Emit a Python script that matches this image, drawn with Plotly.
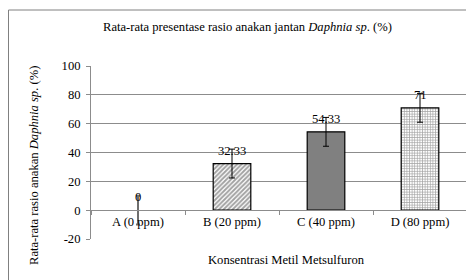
import plotly.graph_objects as go

categories = ["A (0 ppm)", "B (20 ppm)", "C (40 ppm)", "D (80 ppm)"]
values = [0, 32.33, 54.33, 71]
errors = [10, 10, 10, 10]
y_ticks = [-20, 0, 20, 40, 60, 80, 100]

FONT = "Liberation Serif"
GRID = "#8c8c8c"
FS = 12.6

# page has an 8px body margin; plot area placed so the screenshot matches
L, T, PW, PH = 83, 58, 376, 173
W, H = 466, 272

fig = go.Figure()

fig.add_trace(go.Bar(
    x=categories[:1], y=values[:1],
    width=0.4,
    marker=dict(color="white", line=dict(color="white", width=0)),
    error_y=dict(type="data", array=errors[:1], visible=True,
                 color="#6e6e6e", thickness=2, width=2),
    showlegend=False,
))

fig.add_trace(go.Bar(
    x=categories[1:], y=values[1:],
    width=0.4,
    marker=dict(
        color=["white", "#808080", "white"],
        line=dict(color="black", width=1.2),
        pattern=dict(shape=["/", "", "+"],
                     fgcolor=["black", "#808080", "#222222"],
                     bgcolor=["white", "#808080", "white"],
                     size=[3.2, 4, 2.6],
                     solidity=[0.6, 0.3, 0.45]),
    ),
    error_y=dict(type="data", array=errors[1:], visible=True,
                 color="black", thickness=1, width=3),
    showlegend=False,
))

annotations = []
for c, v in zip(categories, values):
    annotations.append(dict(
        x=c, y=v, xref="x", yref="y", text=f"{v:g}", showarrow=False,
        xanchor="center", yanchor="middle",
        yshift=13, font=dict(family=FONT, size=FS, color="black"),
    ))

annotations.append(dict(
    x=(239 - L) / PW, y=1 + (T - 19) / PH, xref="paper", yref="paper",
    xanchor="center", yanchor="middle",
    text="Rata-rata presentase rasio anakan jantan <i>Daphnia sp</i>. (%)",
    showarrow=False, font=dict(family=FONT, size=FS, color="black"),
))
annotations.append(dict(
    x=(26 - L) / PW, y=(T + PH - 158) / PH, xref="paper", yref="paper",
    xanchor="center", yanchor="middle",
    text="Rata-rata rasio anakan <i>Daphnia sp</i>. (%)", textangle=-90,
    showarrow=False, font=dict(family=FONT, size=FS, color="black"),
))
annotations.append(dict(
    x=(278 - L) / PW, y=(T + PH - 252) / PH, xref="paper", yref="paper",
    xanchor="center", yanchor="middle",
    text="Konsentrasi Metil Metsulfuron",
    showarrow=False, font=dict(family=FONT, size=FS, color="black"),
))

fig.update_layout(
    width=W, height=H,
    margin=dict(l=L, r=W - L - PW, t=T, b=H - T - PH),
    paper_bgcolor="white", plot_bgcolor="white",
    barmode="overlay",
    font=dict(family=FONT, size=FS, color="black"),
    annotations=annotations,
    shapes=[dict(type="rect", xref="paper", yref="paper",
                 x0=(0.5 - L) / PW, x1=1.2, y0=-0.6, y1=1 + (T - 2) / PH,
                 line=dict(color="#808080", width=1), layer="below")],
    xaxis=dict(
        categoryorder="array", categoryarray=categories,
        anchor="free", position=20 / 120,
        showline=True, linecolor=GRID, linewidth=1,
        ticks="outside", tickson="boundaries", ticklen=4, tickcolor=GRID,
        showgrid=False, tickfont=dict(family=FONT, size=FS),
    ),
    yaxis=dict(
        range=[-20, 100], tickvals=y_ticks,
        ticktext=[str(v) for v in y_ticks],
        showline=True, linecolor=GRID, linewidth=1,
        ticks="outside", ticklen=4, tickcolor=GRID,
        ticklabelstandoff=3,
        showgrid=True, gridcolor=GRID, gridwidth=1,
        zeroline=False, tickfont=dict(family=FONT, size=FS),
    ),
)

fig.write_html("out.html")
